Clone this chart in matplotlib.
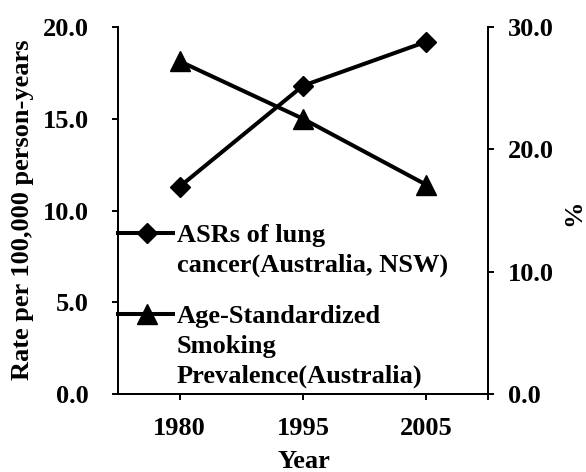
import matplotlib
matplotlib.use("Agg")
import matplotlib.pyplot as plt
from matplotlib.lines import Line2D

years = ["1980", "1995", "2005"]
lung_asr = [11.3, 16.8, 19.2]
smoking_prev = [27.2, 22.5, 17.1]
left_ticks = [0, 5, 10, 15, 20]
right_ticks = [0, 10, 20, 30]
lung_label = ["ASRs of lung", "cancer(Australia, NSW)"]
smoke_label = ["Age-Standardized", "Smoking", "Prevalence(Australia)"]

plt.rcParams['font.family'] = ['Liberation Serif', 'DejaVu Serif']
plt.rcParams['font.weight'] = 'bold'
fs = 19

W, H = 586, 472
fig = plt.figure(figsize=(W / 100, H / 100), dpi=100)
ax = fig.add_axes([118 / W, (H - 394) / H, 370 / W, 367 / H])
ax2 = ax.twinx()

x = list(range(len(years)))
ax.plot(x, lung_asr, color='black', lw=2.9, marker='D', ms=10.5, clip_on=False, zorder=3)
ax2.plot(x, smoking_prev, color='black', lw=2.9, marker='^', ms=14, clip_on=False, zorder=3)

ax.set_xlim(-0.5, 2.5)
ax.set_ylim(0, 20)
ax2.set_ylim(0, 30)
ax.set_xticks(x)
ax.set_xticks([2.5], minor=True)
ax.set_xticklabels(years, fontsize=fs, fontweight='bold')
ax.set_yticks(left_ticks)
ax.set_yticklabels([f"{v:.1f}" for v in left_ticks], fontsize=fs, fontweight='bold')
ax2.set_yticks(right_ticks)
ax2.set_yticklabels([f"{v:.1f}" for v in right_ticks], fontsize=fs, fontweight='bold')

for a in (ax, ax2):
    a.spines['top'].set_visible(False)
    for s in a.spines.values():
        s.set_linewidth(1.4)
ax.tick_params(axis='y', direction='out', length=4.3, width=1.4, pad=16.5)
ax2.tick_params(axis='y', direction='out', length=4.3, width=1.4, pad=10)
ax.tick_params(axis='x', which='both', direction='out', length=4.3, width=1.4, pad=12)

def px(xp, yp):
    return xp / W, 1 - yp / H

fig.text(*px(22.5, 210), 'Rate per 100,000 person-years', rotation=90,
         ha='center', va='center', fontsize=fs, fontweight='bold')
fig.text(*px(574, 213), '%', rotation=90, ha='center', va='center',
         fontsize=fs, fontweight='bold')
fig.text(*px(304, 462), 'Year', ha='center', va='center', fontsize=fs, fontweight='bold')

# legend (manual, handle aligned with first label line)
def ax_frac(xp, yp):
    return (xp - 118) / 370, (394 - yp) / 367

for marker, ms, hy, lines, base in [('D', 10.5, 233, lung_label, 242),
                                     ('^', 14, 314, smoke_label, 323)]:
    x0, y0 = ax_frac(118, hy)
    x1, _ = ax_frac(173, hy)
    xm, _ = ax_frac(146.5, hy)
    ax2.add_line(Line2D([x0, x1], [y0, y0], color='black', lw=2.9,
                        transform=ax2.transAxes, clip_on=False))
    ax2.add_line(Line2D([xm], [y0], color='black', marker=marker, ms=ms, lw=0,
                        transform=ax2.transAxes, clip_on=False))
    for i, t in enumerate(lines):
        tx, ty = ax_frac(177, base + 30 * i)
        ax2.text(tx, ty, t, transform=ax2.transAxes, ha='left', va='baseline',
                 fontsize=fs, fontweight='bold')

fig.savefig('out.png', dpi=100)
